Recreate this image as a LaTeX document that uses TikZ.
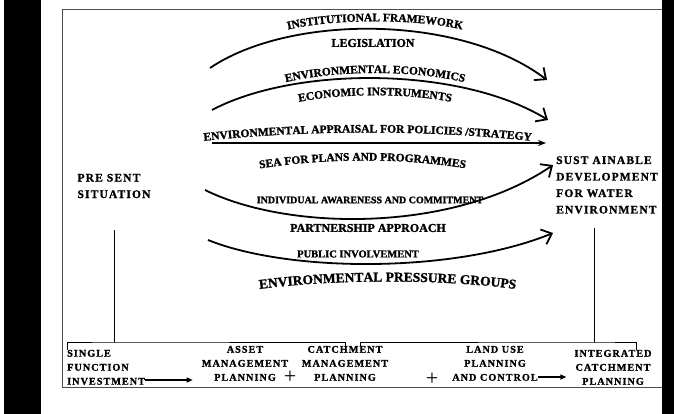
\documentclass[tikz,border=0pt]{standalone}
\usepackage{fontspec}
\setmainfont{Liberation Serif}[BoldFeatures={FakeBold=1.4}]
\newfontfamily\widefont{Liberation Serif}[LetterSpace=10, BoldFeatures={FakeBold=1.2}]
\usepackage{tikz}
\usetikzlibrary{positioning, arrows.meta, decorations.text}
\newcommand{\labelfont}{\bfseries\fontsize{11.5}{13}\selectfont}
\newcommand{\stagefont}{\widefont\bfseries\fontsize{10.2}{14}\selectfont}

\begin{document}
\begin{tikzpicture}[
  x=1pt, y=-1pt,
  font=\labelfont,
  bigarrow/.style={line width=1.8pt, -{Straight Barb[length=9pt, width=16pt]}},
  thinarrow/.style={line width=1.3pt, -{Stealth[length=8pt, width=6pt]}},
  steparrow/.style={line width=1.3pt, -{Triangle[length=6pt, width=5pt]}},
  link/.style={line width=0.8pt},
  sidelabel/.style={align=left, inner sep=0pt, font=\widefont\bfseries\fontsize{11.5}{16.5}\selectfont},
  stage/.style={align=center, inner sep=0pt, font=\stagefont},
  plus/.style={inner sep=0pt, font=\fontsize{22}{22}\selectfont},
  curvedlabel/.style={decorate, decoration={text along path, text align=center, text={|\labelfont|#1}}},
  biglabel/.style={decorate, decoration={text along path, text align=center, text={|\bfseries\fontsize{13.5}{15}\selectfont|#1}}}
]
\fill[white] (0,0) rectangle (674,414);
\useasboundingbox (0,0) rectangle (674,414);
\draw[gray!60!black, line width=1pt] (62,10) rectangle (668,387);

\coordinate (a1s) at (210,68);
\coordinate (a1e) at (547,80);
\coordinate (a2s) at (212,110);
\coordinate (a2e) at (548,120);
\coordinate (a3s) at (212,143);
\coordinate (a3e) at (546,143);
\coordinate (a4s) at (205,190);
\coordinate (a4e) at (553,165);
\coordinate (a5s) at (208,240);
\coordinate (a5e) at (553,233);

\draw[bigarrow] (a1s) .. controls (290,14) and (460,14) .. (a1e);
\draw[bigarrow] (a2s) .. controls (295,66) and (460,66) .. (a2e);
\draw[thinarrow] (a3s) -- (a3e);
\draw[bigarrow] (a4s) .. controls (290,232) and (455,232) .. (a4e);
\draw[bigarrow] (a5s) .. controls (290,273) and (455,273) .. (a5e);

\path[curvedlabel={INSTITUTIONAL FRAMEWORK}] (282,31) .. controls (330,18) and (420,18) .. (468,31);
\node[font=\bfseries\fontsize{12}{13}\selectfont] (legis) at (373,43) {LEGISLATION};
\path[curvedlabel={ENVIRONMENTAL ECONOMICS}] (275,85) .. controls (330,69) and (420,69) .. (475,85);
\path[curvedlabel={ECONOMIC INSTRUMENTS}] (285,105) .. controls (335,92) and (415,92) .. (465,105);
\path[curvedlabel={ENVIRONMENTAL APPRAISAL FOR POLICIES /STRATEGY}] (185,143) .. controls (300,129) and (435,129) .. (550,143);
\path[curvedlabel={SEA FOR PLANS AND PROGRAMMES}] (245,171) .. controls (320,157) and (410,157) .. (480,171);
\node[font=\bfseries\fontsize{10}{12}\selectfont] (aware) at (370,200) {INDIVIDUAL AWARENESS AND COMMITMENT};
\node[font=\bfseries\fontsize{12}{13}\selectfont] (partner) at (368,228) {PARTNERSHIP APPROACH};
\node[font=\bfseries\fontsize{10.5}{12}\selectfont] (public) at (358,254) {PUBLIC INVOLVEMENT};
\path[biglabel={ENVIRONMENTAL PRESSURE  GROUPS}] (240,292) .. controls (320,278) and (455,278) .. (535,292);

\node[sidelabel] (present) at (114,186) {PRE SENT\\SITUATION};
\node[sidelabel, anchor=west] (goal) at (556,185) {SUST AINABLE\\DEVELOPMENT\\FOR WATER\\ENVIRONMENT};

\node[stage, align=left, anchor=south west] (single) at (67,385) {SINGLE\\FUNCTION\\INVESTMENT};
\node[stage, anchor=south] (asset) at (245,381) {ASSET\\MANAGEMENT\\PLANNING};
\node[plus] (plus1) at (290,377) {+};
\node[stage, anchor=south] (catch) at (345,381) {CATCHMENT\\MANAGEMENT\\PLANNING};
\node[plus] (plus2) at (432,379) {+};
\node[stage, anchor=south] (landuse) at (495,381) {LAND USE\\PLANNING\\AND CONTROL};
\node[stage, anchor=south] (icp) at (613,385) {INTEGRATED\\CATCHMENT\\PLANNING};

\coordinate (lbar) at (116,342);
\coordinate (rbar) at (594,342);
\draw[link] ([yshift=-32pt]present.south) -- (present.south |- lbar);
\draw[link] ([yshift=-14pt]goal.south -| rbar) -- (rbar);
\draw[link] (single.north west) |- (lbar) -| (catch.north);
\draw[link] ([xshift=15pt]catch.north) |- (rbar) -| ([xshift=23pt]icp.north);

\draw[steparrow, shorten >=9pt] ([yshift=5pt]single.south east) -- ([yshift=5pt]single.south east -| asset.west);
\draw[steparrow, shorten >=8pt] ([yshift=4pt]landuse.south east) -- ([yshift=4pt]landuse.south east -| icp.west);

\fill[black] (4,0) rectangle (41,414);
\fill[black] (662,0) rectangle (674,414);
\end{tikzpicture}
\end{document}
